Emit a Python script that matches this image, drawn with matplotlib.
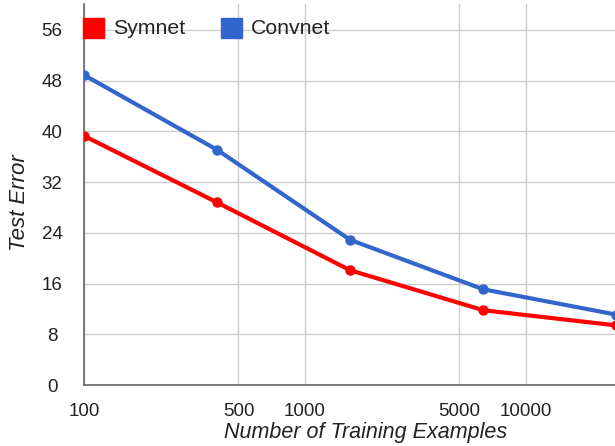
import numpy as np
import matplotlib.pyplot as plt
from matplotlib.patches import Rectangle
from matplotlib.ticker import FixedLocator, FixedFormatter, NullLocator

plt.rcParams["font.family"] = ["Liberation Sans", "DejaVu Sans"]

# data
train_sizes = [100, 400, 1600, 6400, 25600]
symnet_err = [39.3, 28.8, 18.1, 11.8, 9.4]
convnet_err = [48.9, 37.1, 22.9, 15.1, 11.1]
x_ticks = [100, 500, 1000, 5000, 10000]
y_ticks = [0, 8, 16, 24, 32, 40, 48, 56]
series_names = ["Symnet", "Convnet"]

red = "#ff0000"
blue = "#3366cc"
W, H = 615, 446

fig = plt.figure(figsize=(W / 100, H / 100), dpi=100)
ax = fig.add_axes([84 / W, 1 - 385 / H, 1 - 84 / W, (385 - 4) / H])

ax.plot(train_sizes, symnet_err, color=red, lw=3, marker="o", ms=6.5,
        label=series_names[0], zorder=3)
ax.plot(train_sizes, convnet_err, color=blue, lw=3, marker="o", ms=6.5,
        label=series_names[1], zorder=3)

ax.set_xscale("log")
ax.set_xlim(100, 10 ** (2 + 531 / 221))
ax.set_ylim(0, 60.1)

ax.xaxis.set_major_locator(FixedLocator(x_ticks))
ax.xaxis.set_major_formatter(FixedFormatter([str(t) for t in x_ticks]))
ax.xaxis.set_minor_locator(NullLocator())
ax.set_yticks(y_ticks)
ax.set_yticklabels([str(t) for t in y_ticks])

ax.grid(True, color="#cccccc", lw=1)
ax.set_axisbelow(True)
ax.tick_params(length=0, labelsize=13.5, colors="#222222")
ax.tick_params(axis="x", pad=13)
ax.tick_params(axis="y", pad=23)
for lab in ax.get_yticklabels():
    lab.set_horizontalalignment("center")

for side in ["top", "right"]:
    ax.spines[side].set_visible(False)
for side in ["left", "bottom"]:
    ax.spines[side].set_color("#666666")
    ax.spines[side].set_linewidth(1.2)

# the source chart is cropped on the right, so titles sit off-centre
ax.set_xlabel("Number of Training Examples", fontsize=15.5, style="italic",
              color="#222222")
ax.xaxis.set_label_coords((366 - 84) / 531, (385 - 422) / 381)
ax.set_ylabel("Test Error", fontsize=16, style="italic", color="#222222")
ax.yaxis.set_label_coords((30 - 84) / 531, (385 - 203) / 381)

# legend drawn as in the reference: squares plus labels along the top
for name, color, x0 in zip(series_names, [red, blue], [83, 221]):
    fig.patches.append(Rectangle((x0 / W, 1 - 38 / H), 21 / W, 20 / H,
                                 transform=fig.transFigure, color=color,
                                 zorder=5))
    fig.text((x0 + 30) / W, 1 - 28 / H, name, fontsize=15.3, color="#222222",
             va="center", ha="left")

fig.savefig("out.png", dpi=100)
